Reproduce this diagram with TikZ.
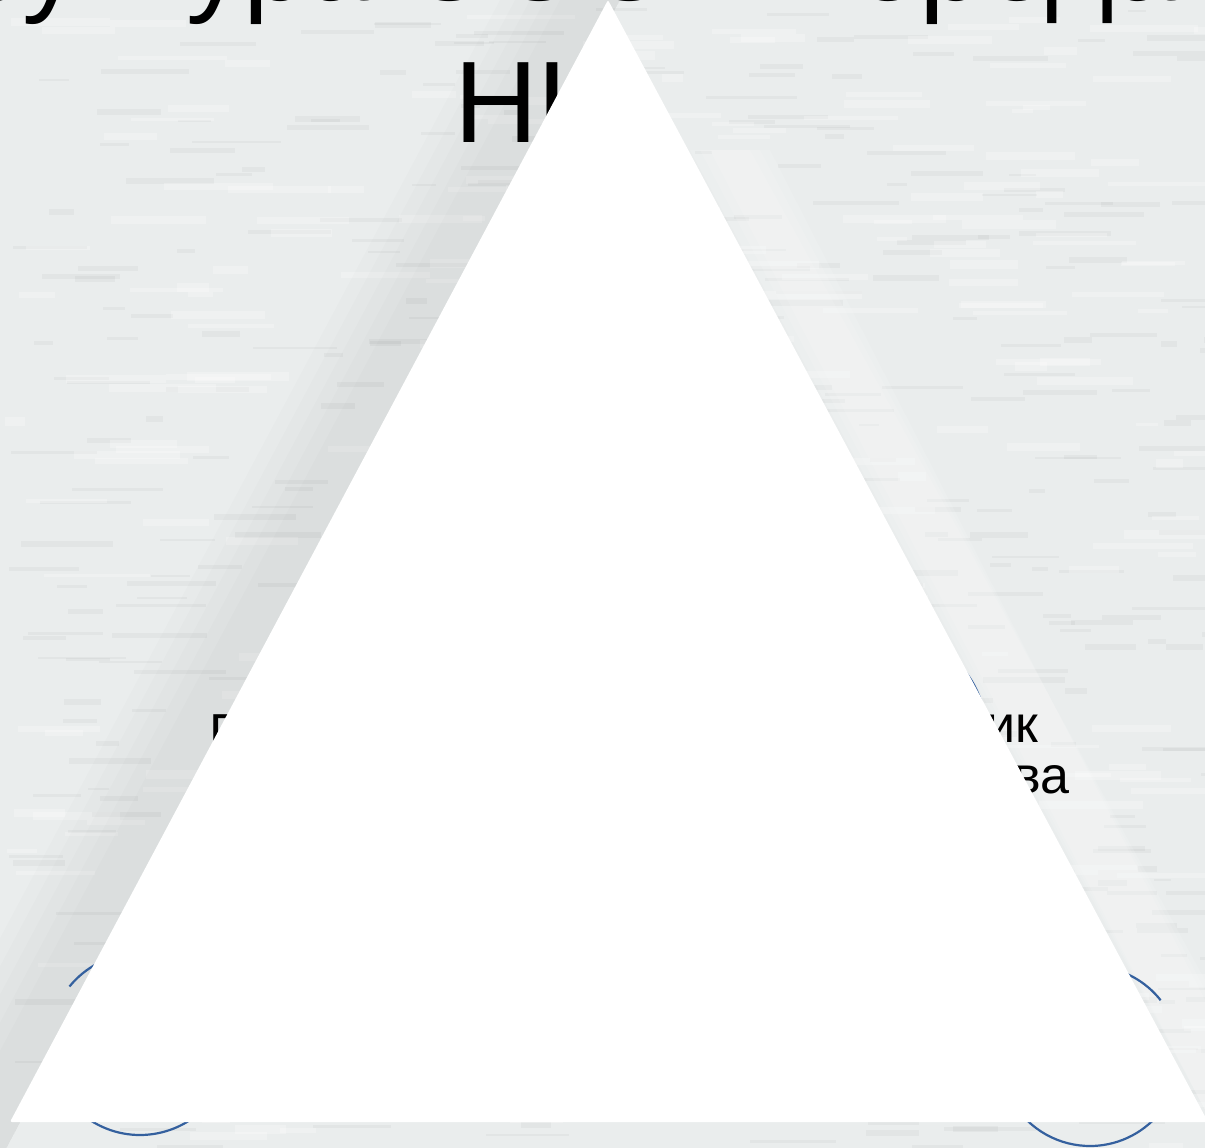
\documentclass[tikz,border=0pt]{standalone}
\usepackage{fontspec}
\setmainfont{Liberation Sans}
\definecolor{bgc}{RGB}{234,237,237}
\definecolor{arcblue}{RGB}{52,96,158}
\tikzset{
  ttl/.style={inner sep=0pt, outer sep=0pt, font=\fontsize{116}{139}\selectfont, text=black},
  lbl/.style={inner sep=0pt, outer sep=0pt, font=\fontsize{52}{52}\selectfont, text=black},
  ring/.style={draw=arcblue, line width=2.2pt},
  streak/.style={fill=black, opacity=0.03},
  lightstreak/.style={fill=white, opacity=0.25},
  soft/.style={fill=black, opacity=0.011},
}
\begin{document}
\begin{tikzpicture}[x=1pt,y=-1pt]
\useasboundingbox (0,0) rectangle (1205,1148);
% background
\fill[bgc] (0,0) rectangle (1205,1148);
\pgfmathsetseed{12}
\foreach \i in {1,...,450}{
  \pgfmathsetmacro{\xx}{rnd*1205}
  \pgfmathsetmacro{\yy}{rnd*1148}
  \pgfmathsetmacro{\ww}{15+rnd*80}
  \pgfmathsetmacro{\hh}{2+rnd*4}
  \fill[streak] (\xx,\yy) rectangle ++(\ww,\hh);
}
\foreach \i in {1,...,300}{
  \pgfmathsetmacro{\xx}{rnd*1205}
  \pgfmathsetmacro{\yy}{rnd*1148}
  \pgfmathsetmacro{\ww}{20+rnd*90}
  \pgfmathsetmacro{\hh}{3+rnd*6}
  \fill[lightstreak] (\xx,\yy) rectangle ++(\ww,\hh);
}
% soft darker diagonal band along the left side of the triangle
\foreach \d in {0,15,30,45,60}{
  \fill[soft] (500+\d,0) -- (620,0) -- (0,1160) -- (0,1148) -- (0,{(500+\d)/0.533}) -- cycle;
}
% soft lighter band right of the triangle
\foreach \d in {0,10,20}{
  \fill[white, opacity=0.12] (690+\d,150) -- (770-\d,150) -- (1205,1000-\d) -- (1205,1110) -- cycle;
}
% title
\node[ttl, anchor=base west] (t1) at (-178,1) {Структура ООО «Передача»};
\node[ttl, anchor=base west] (t2) at (454,142) {НК};
% labels
\node[lbl, anchor=base west] (g) at (209,750) {Г};
\node[lbl, anchor=base east] (r1) at (1038,742) {ик};
\node[lbl, anchor=base east] (r2) at (1069,793) {ва};
% arcs
\coordinate (c1) at (140,1044);
\coordinate (c2) at (1090,1056);
\coordinate (c3) at (895,728);
\draw[ring] (c1) ++(219.2:91) arc[start angle=219.2, end angle=520, radius=91];
\draw[ring] (c2) ++(321.7:90) arc[start angle=321.7, end angle=30, radius=90];
\draw[ring] (c3) circle[radius=90];
% white triangle
\fill[white, rounded corners=2pt] (608,0) -- (10,1122) -- (1208,1122) -- cycle;
\end{tikzpicture}
\end{document}
